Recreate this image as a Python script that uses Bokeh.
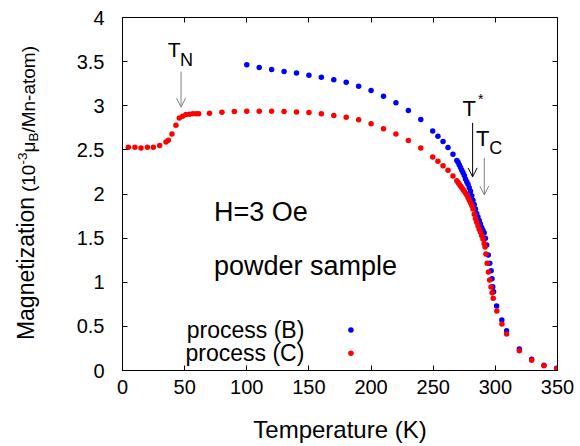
import math
from bokeh.plotting import figure
from bokeh.layouts import row
from bokeh.models import (Label, Arrow, OpenHead, LinearAxis, FixedTicker,
                          NumeralTickFormatter, Range1d)
from bokeh.core.properties import value
from bokeh.embed import file_html
from bokeh.resources import INLINE

FONT = "Liberation Sans"

# ---- data ----
x_ticks = [0, 50, 100, 150, 200, 250, 300, 350]
y_ticks = [0, 0.5, 1, 1.5, 2, 2.5, 3, 3.5, 4]

# process (B)
temp_b = [100, 110, 120, 130, 140, 150, 160, 170, 180, 190, 200, 210, 220, 230, 240,
          249.6, 253.8, 257.9, 261.9, 265.9,
          269, 270, 271, 272, 273, 274, 275, 276, 277, 278, 279, 280, 281, 282, 283,
          284, 285, 286, 287, 288, 289, 290, 291, 292,
          293, 294.3, 295.5, 296.6, 297.3, 297.9, 298.6, 301, 305.2, 309.1,
          319.3, 329.2, 339.1, 349.3]
mag_b = [3.464, 3.433, 3.41, 3.388, 3.37, 3.347, 3.324, 3.294, 3.265, 3.222, 3.172,
         3.109, 3.033, 2.946, 2.844,
         2.715, 2.655, 2.594, 2.526, 2.451,
         2.38, 2.36, 2.33, 2.30, 2.27, 2.24, 2.21, 2.17, 2.14, 2.11, 2.07, 2.03, 1.98,
         1.93, 1.88, 1.83, 1.78, 1.74, 1.70, 1.66, 1.62, 1.59, 1.56, 1.50,
         1.423, 1.31, 1.215, 1.131, 1.04, 0.95, 0.893, 0.731, 0.573, 0.451,
         0.244, 0.127, 0.059, 0.025]

# process (C)
temp_c = [4.7, 10, 14.9, 20, 24.8, 29.9, 35, 36.9, 39.8, 43, 45.7, 48.4, 51.1, 53.8,
          56.5, 59.2, 61.3, 70, 80, 90, 100, 110, 120, 130, 140, 150, 160, 170, 180,
          190, 200, 210, 220, 230, 240, 249.6, 253.8, 257.9, 261.9, 265.9,
          269, 270, 271, 272, 273, 274, 275, 276, 277, 278, 279, 280, 281, 282, 283,
          284, 285, 286, 287, 288, 289, 290, 291, 291.7,
          292.4, 293.4, 294.4, 295.4, 296.5, 297.4, 298.3, 301.2, 305.3, 309.1,
          319.3, 329.2, 339.1, 349.3]
mag_c = [2.53, 2.53, 2.52, 2.53, 2.53, 2.55, 2.59, 2.61, 2.68, 2.78, 2.86, 2.88, 2.90,
         2.905, 2.91, 2.91, 2.91, 2.916, 2.927, 2.934, 2.938, 2.938, 2.938, 2.934,
         2.93, 2.923, 2.908, 2.89, 2.87, 2.84, 2.795, 2.74, 2.68, 2.605, 2.52, 2.42,
         2.37, 2.32, 2.27, 2.205,
         2.15, 2.13, 2.11, 2.09, 2.07, 2.05, 2.03, 2.01, 1.99, 1.96, 1.93, 1.90, 1.87,
         1.83, 1.77, 1.72, 1.68, 1.64, 1.60, 1.57, 1.53, 1.49, 1.44, 1.40,
         1.32, 1.215, 1.115, 1.026, 0.945, 0.88, 0.82, 0.675, 0.527, 0.414,
         0.225, 0.115, 0.055, 0.02]

legend_labels = ["process (B)", "process (C)"]
colors = ["#0000ff", "#ff0000"]

# y-axis title pieces: text, font size, cross position (px), centre along (px from top)
ytitle_text = ["Magnetization", "(10", "-3", "\u03bc", "B", "/Mn-atom)"]
ytitle_size = ["23px", "19px", "13.5px", "19px", "13.5px", "19px"]
ytitle_cross = [25.3, 28.3, 22.3, 28.3, 33.0, 28.3]
ytitle_mid = [268.0, 177.8, 158.0, 146.5, 136.6, 88.8]

LEFT_W = 45
H = 446
TOP, BOTTOM = 17, 76

# ---- narrow left strip with the rotated y-axis title ----
# (its frame is aligned with the main frame by the row layout)
lp = figure(width=LEFT_W, height=H, x_range=Range1d(0, LEFT_W),
            y_range=Range1d(BOTTOM, H - TOP),
            min_border=0, min_border_left=0, min_border_right=0,
            min_border_top=TOP, min_border_bottom=BOTTOM,
            x_axis_type=None, y_axis_type=None,
            output_backend="svg", toolbar_location=None)
lp.outline_line_color = None
lp.background_fill_color = "white"
lp.border_fill_color = "white"
lp.xgrid.visible = False
lp.ygrid.visible = False
for t, s, cx, mid in zip(ytitle_text, ytitle_size, ytitle_cross, ytitle_mid):
    lp.text(x=[cx], y=[H - mid], text=[t], angle=math.pi / 2,
            text_align="center", text_baseline="middle",
            text_font=value(FONT), text_font_size=s, text_color="black")

# ---- main figure ----
p = figure(width=580 - LEFT_W, height=H,
           min_border_left=122 - LEFT_W, min_border_right=23, min_border_top=TOP,
           min_border_bottom=BOTTOM,
           x_range=Range1d(0, 350), y_range=Range1d(0, 4),
           output_backend="svg", toolbar_location=None)
p.background_fill_color = "white"
p.border_fill_color = "white"
p.outline_line_color = "black"
p.outline_line_width = 1
p.xgrid.visible = False
p.ygrid.visible = False


def style_axis(ax):
    ax.axis_line_color = "black"
    ax.axis_line_width = 1
    ax.major_tick_line_color = "black"
    ax.major_tick_in = 5
    ax.major_tick_out = 0
    ax.minor_tick_line_color = None
    ax.major_label_text_font = FONT
    ax.major_label_text_font_size = "20px"
    ax.major_label_text_color = "black"


xa = p.xaxis[0]
xa.ticker = FixedTicker(ticks=x_ticks)
xa.formatter = NumeralTickFormatter(format="0")
style_axis(xa)
xa.major_label_standoff = 9
xa.axis_label = "Temperature (K)"
xa.axis_label_text_font = FONT
xa.axis_label_text_font_size = "24px"
xa.axis_label_text_font_style = "normal"
xa.axis_label_text_color = "black"
xa.axis_label_standoff = 19

ya = p.yaxis[0]
ya.ticker = FixedTicker(ticks=y_ticks)
ya.formatter = NumeralTickFormatter(format="0.[0]")
style_axis(ya)
ya.major_label_standoff = 18

ra = LinearAxis(ticker=FixedTicker(ticks=y_ticks))
style_axis(ra)
ra.major_label_text_color = None
ra.major_label_standoff = 0
ta = LinearAxis(ticker=FixedTicker(ticks=x_ticks))
style_axis(ta)
ta.major_label_text_color = None
ta.major_label_standoff = 0
p.add_layout(ra, "right")
p.add_layout(ta, "above")

# ---- data points ----
p.scatter(temp_b, mag_b, size=5.5, color=colors[0], line_color=None)
p.scatter(temp_c, mag_c, size=5.5, color=colors[1], line_color=None)

# ---- legend (key on the right of the text) ----
LEG_TEXT_X = 146.3
LEG_KEY_X = 183.8
leg_y = [0.459, 0.195]
for lab_t, ky, col in zip(legend_labels, leg_y, colors):
    p.add_layout(Label(x=LEG_TEXT_X, y=ky, text=lab_t, text_align="right",
                       text_baseline="middle", text_font=FONT,
                       text_font_size="23px", text_color="black"))
    p.scatter([LEG_KEY_X], [ky], size=5.5, color=col, line_color=None)


def lab(x, y, text, size, align="left"):
    p.add_layout(Label(x=x, y=y, text=text, text_align=align,
                       text_baseline="middle", text_font=FONT,
                       text_font_size=size, text_color="black"))


# annotations
lab(73.6, 1.797, "H=3 Oe", "27px")
lab(73.6, 1.181, "powder sample", "27px")

lab(36.5, 3.639, "T", "21px")
lab(46.3, 3.524, "N", "18px")
lab(273.5, 2.973, "T", "22px")
lab(286.0, 3.078, "*", "14px")
lab(284.4, 2.632, "T", "22px")
lab(295.1, 2.525, "C", "18px")

p.add_layout(Arrow(x_start=47.1, y_start=3.388, x_end=47.1, y_end=2.984,
                   line_color="#808080", line_width=1,
                   end=OpenHead(size=9, line_color="#808080", line_width=1)))
p.add_layout(Arrow(x_start=281.7, y_start=2.806, x_end=281.7, y_end=2.194,
                   line_color="black", line_width=1,
                   end=OpenHead(size=9, line_color="black", line_width=1)))
p.add_layout(Arrow(x_start=291.1, y_start=2.409, x_end=291.1, y_end=1.99,
                   line_color="#808080", line_width=1,
                   end=OpenHead(size=9, line_color="#808080", line_width=1)))

layout = row(lp, p, spacing=0)
open("out.html", "w").write(file_html(layout, INLINE))
